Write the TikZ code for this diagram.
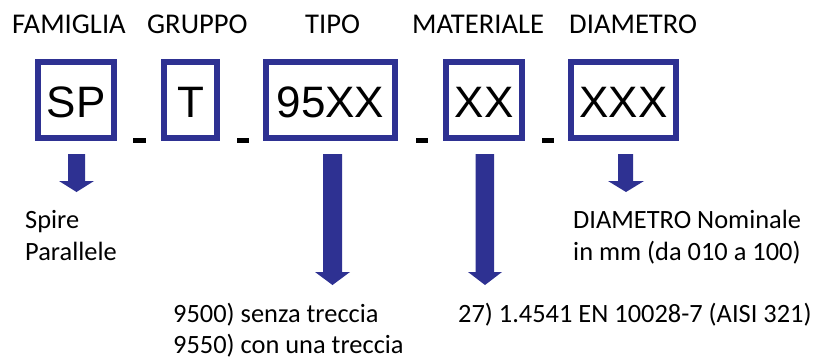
\documentclass[tikz,border=0pt]{standalone}
\usepackage{fontspec}
\newfontfamily\labfont{Carlito}
\newfontfamily\boxfont{Liberation Sans}
\definecolor{navy}{RGB}{46,49,146}
\begin{document}
\begin{tikzpicture}[x=1pt,y=-1pt,
  codebox/.style={draw=navy,line width=6pt,fill=white},
  codetext/.style={anchor=base,inner sep=0pt,font=\boxfont\fontsize{44}{44}\selectfont},
  header/.style={anchor=base west,inner sep=0pt,font=\labfont\fontsize{28.6}{30}\selectfont},
  desc/.style={anchor=base west,inner sep=0pt,font=\labfont\fontsize{26.4}{32}\selectfont},
  sep/.style={fill=black},
  blockarrow/.style={fill=navy}]
\useasboundingbox (0,0) rectangle (816,359);
% headers
\node[header] (hfam) at (12,33) {FAMIGLIA};
\node[header] (hgru) at (147,33) {GRUPPO};
\node[header] (htip) at (305,33) {TIPO};
\node[header] (hmat) at (412,33) {MATERIALE};
\node[header] (hdia) at (569,33) {DIAMETRO};
% boxes
\draw[codebox] (38,62) rectangle (114,138);
\draw[codebox] (164,62) rectangle (217,138);
\draw[codebox] (266,62) rectangle (395,138);
\draw[codebox] (446,62) rectangle (522,138);
\draw[codebox] (571,62) rectangle (676,138);
\node[codetext] (bsp) at (76,117) {SP};
\node[codetext] (bt) at (190.5,117) {T};
\node[codetext] (b95) at (330.5,117) {95XX};
\node[codetext] (bxx) at (484,117) {XX};
\node[codetext] (bxxx) at (623.5,117) {XXX};
% separators
\fill[sep] (133,137.5) rectangle (146,142.7);
\fill[sep] (237,137.5) rectangle (249,142.7);
\fill[sep] (416,137.5) rectangle (428,142.7);
\fill[sep] (542,137.5) rectangle (554,142.7);
% arrows
\fill[blockarrow] (68,154) -- (85,154) -- (85,181) -- (94,181) -- (76.5,192) -- (59,181) -- (68,181) -- cycle;
\fill[blockarrow] (323,154) -- (342,154) -- (342,272) -- (350,272) -- (332.5,285) -- (315,272) -- (323,272) -- cycle;
\fill[blockarrow] (475.5,154) -- (494,154) -- (494,272) -- (502,272) -- (485,285) -- (468,272) -- (475.5,272) -- cycle;
\fill[blockarrow] (618,154) -- (633,154) -- (633,181) -- (644,181) -- (626,192) -- (608,181) -- (618,181) -- cycle;
% descriptions
\node[desc] (d1a) at (25,228) {Spire};
\node[desc] (d1b) at (25,260) {Parallele};
\node[desc] (d2a) at (173,322) {9500) senza treccia};
\node[desc] (d2b) at (173,353) {9550) con una treccia};
\node[desc] (d3) at (458,322) {27) 1.4541 EN 10028-7 (AISI 321)};
\node[desc] (d4a) at (573,228) {DIAMETRO Nominale};
\node[desc] (d4b) at (573,260) {in mm (da 010 a 100)};
\end{tikzpicture}
\end{document}
